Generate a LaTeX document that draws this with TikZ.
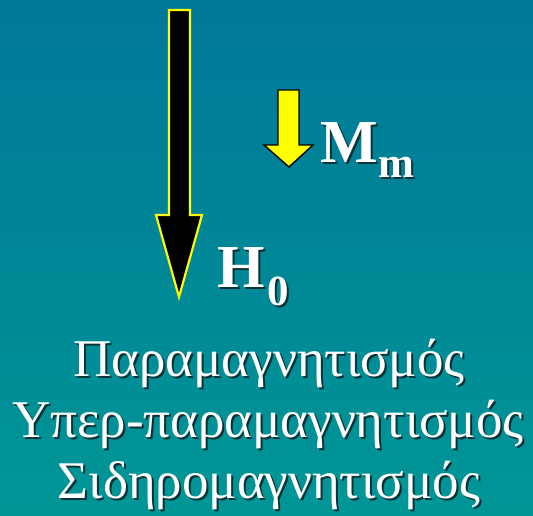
\documentclass[tikz,border=0pt]{standalone}
\usepackage{fontspec}
\setmainfont{Liberation Serif}
\usetikzlibrary{shadings}
\definecolor{bgtop}{RGB}{0,120,152}
\definecolor{bgbot}{RGB}{0,150,150}
\definecolor{yel}{RGB}{255,255,0}
\definecolor{shadowc}{RGB}{10,50,55}
\newcommand\shtext[1]{\rlap{\hspace{2pt}\raisebox{-2pt}{\textcolor{shadowc}{#1}}}#1}
\tikzset{
  lbl/.style={text=white, inner sep=0pt, font=\bfseries\fontsize{61}{64}\selectfont},
  sublbl/.style={text=white, inner sep=0pt, font=\bfseries\fontsize{43}{46}\selectfont},
  grk/.style={text=white, inner sep=0pt, font=\fontsize{53}{58}\selectfont},
}
\begin{document}
\begin{tikzpicture}[x=1pt,y=-1pt]
  \shade[top color=bgtop, bottom color=bgbot] (0,0) rectangle (533,515);
  \useasboundingbox (0,0) rectangle (533,515);
  % big arrow H0
  \draw[yel, line width=2.2pt, fill=black, line join=miter]
    (169,10) -- (190,10) -- (190,215) -- (202,215) -- (179,297) -- (156,215) -- (169,215) -- cycle;
  % small arrow Mm
  \draw[black, line width=1.4pt, fill=yel, line join=miter]
    (278,90) -- (299,90) -- (299,145) -- (313,145) -- (289,167) -- (264,145) -- (278,145) -- cycle;
  % labels
  \node[lbl, anchor=base west] (M) at (320,162) {\shtext{M}};
  \node[sublbl, anchor=base west] (m) at (378,177) {\shtext{m}};
  \node[lbl, anchor=base west] (H) at (217,287) {\shtext{H}};
  \node[sublbl, anchor=base west] (z) at (267,305) {\shtext{0}};
  % Greek lines
  \node[grk, anchor=base] (t1) at (269,376) {\shtext{Παραμαγνητισμός}};
  \node[grk, anchor=base] (t2) at (268,437) {\shtext{Υπερ-παραμαγνητισμός}};
  \node[grk, anchor=base] (t3) at (269,498) {\shtext{Σιδηρομαγνητισμός}};
\end{tikzpicture}
\end{document}
